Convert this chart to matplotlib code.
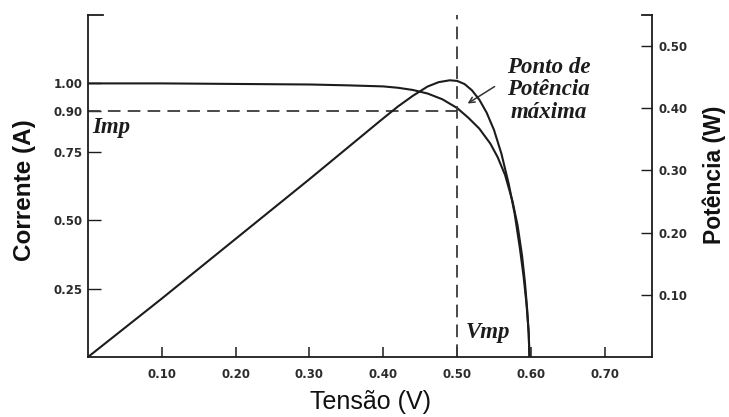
from __future__ import annotations

import matplotlib

matplotlib.use("Agg")
import matplotlib.pyplot as plt

# I-V curve
voltage_i = [0.0, 0.10, 0.20, 0.30, 0.35, 0.40, 0.42, 0.44, 0.46, 0.48, 0.50,
             0.515, 0.53, 0.545, 0.555, 0.565, 0.575, 0.582, 0.588, 0.592,
             0.595, 0.597, 0.598]
current = [1.0, 1.0, 0.998, 0.996, 0.993, 0.989, 0.984, 0.976, 0.963, 0.942, 0.91,
           0.875, 0.835, 0.78, 0.73, 0.665, 0.57, 0.48, 0.37, 0.27,
           0.17, 0.08, 0.0]

# P-V curve
voltage_p = [0.0, 0.10, 0.20, 0.30, 0.396, 0.42, 0.44, 0.46, 0.475, 0.49, 0.50,
             0.51, 0.52, 0.53, 0.54, 0.55, 0.56, 0.57, 0.578, 0.585, 0.59,
             0.594, 0.597, 0.598]
power = [0.0, 0.094, 0.19, 0.286, 0.38, 0.403, 0.42, 0.435, 0.442, 0.445, 0.444,
         0.439, 0.429, 0.414, 0.393, 0.365, 0.327, 0.278, 0.23, 0.175, 0.13,
         0.085, 0.04, 0.0]

voltage_ticks = [0.10, 0.20, 0.30, 0.40, 0.50, 0.60, 0.70]
current_ticks = [0.25, 0.50, 0.75, 0.90, 1.00]
power_ticks = [0.10, 0.20, 0.30, 0.40, 0.50]

v_mp = 0.50
i_mp = 0.90

INK = "#1c1c1c"
LABEL_INK = "#2b2b2b"
W, H = 729, 417


def style_axes(ax: plt.Axes, ax2: plt.Axes) -> None:
    ax.set_xlim(0, 0.764)
    ax.set_ylim(0, 1.25)
    ax2.set_ylim(0, 0.55)

    for name in ("top", "right"):
        ax.spines[name].set_visible(False)
    for name in ("top", "left", "bottom"):
        ax2.spines[name].set_visible(False)
    for spine in (ax.spines["left"], ax.spines["bottom"], ax2.spines["right"]):
        spine.set_linewidth(1.3)
        spine.set_color(INK)

    tick_font = {"family": "DejaVu Sans", "weight": "bold", "size": 8.5}

    ax.set_xticks(voltage_ticks)
    ax.set_xticklabels([f"{v:.2f}" for v in voltage_ticks], fontdict=tick_font, color=LABEL_INK)
    ax.set_yticks(current_ticks)
    ax.set_yticklabels([f"{v:.2f}" for v in current_ticks], fontdict=tick_font, color=LABEL_INK)
    ax2.set_yticks(power_ticks)
    ax2.set_yticklabels([f"{v:.2f}" for v in power_ticks], fontdict=tick_font, color=LABEL_INK)

    ax.tick_params(axis="x", direction="in", length=7, width=1.1, color=INK, pad=8)
    ax.tick_params(axis="y", direction="in", length=9, width=1.0, color=INK, pad=4)
    ax2.tick_params(axis="y", direction="in", length=8, width=1.0, color=INK, pad=5)

    # little caps at the top of both vertical axes
    ax.plot([0, 0.020], [1.25, 1.25], color=INK, lw=1.3, clip_on=False)
    ax2.plot([0.750, 0.764], [0.55, 0.55], color=INK, lw=1.3, clip_on=False)


def draw_curves(ax: plt.Axes, ax2: plt.Axes) -> None:
    ax.plot(voltage_i, current, color=INK, lw=1.5, solid_joinstyle="round")
    ax2.plot(voltage_p, power, color=INK, lw=1.5, solid_joinstyle="round")

    dash = dict(color="#3a3a3a", lw=1.3, dashes=(7, 4))
    ax.plot([0, v_mp], [i_mp, i_mp], **dash)
    ax.plot([v_mp, v_mp], [0, 1.25], clip_on=False, **dash)


def annotate(fig: plt.Figure, ax: plt.Axes) -> None:
    serif = {"family": "Liberation Serif", "style": "italic", "weight": "bold"}
    ax.text(0.006, 0.837, "Imp", fontsize=16.5, va="center", ha="left", color=INK, **serif)
    ax.text(0.511, 0.088, "Vmp", fontsize=16.5, va="center", ha="left", color=INK, **serif)
    ax.text(0.624, 0.976, "Ponto de\nPotência\nmáxima", fontsize=16.5, va="center",
            ha="center", linespacing=1.08, color=INK, **serif)
    ax.annotate("", xy=(0.511, 0.921), xytext=(0.554, 0.994),
                arrowprops=dict(arrowstyle="->", lw=1.1, color="#333333",
                                mutation_scale=10))

    sans = {"family": ["Liberation Sans", "DejaVu Sans"]}
    fig.text(25 / W, 1 - 190 / H, "Corrente (A)", rotation=90, fontsize=17.5,
             weight="bold", ha="center", va="center", color="#111111", **sans)
    fig.text(714 / W, 1 - 175 / H, "Potência (W)", rotation=90, fontsize=16.5,
             weight="bold", ha="center", va="center", color="#111111", **sans)
    fig.text(370 / W, 1 - 402 / H, "Tensão (V)", fontsize=18,
             ha="center", va="center", color="#111111", **sans)


def main() -> None:
    fig = plt.figure(figsize=(W / 100, H / 100), dpi=100)
    ax = fig.add_axes([88 / W, 60 / H, 564 / W, 342 / H])
    ax2 = ax.twinx()

    style_axes(ax, ax2)
    draw_curves(ax, ax2)
    annotate(fig, ax)

    fig.savefig("out.png", dpi=100, facecolor="white")
    plt.close(fig)


if __name__ == "__main__":
    main()
